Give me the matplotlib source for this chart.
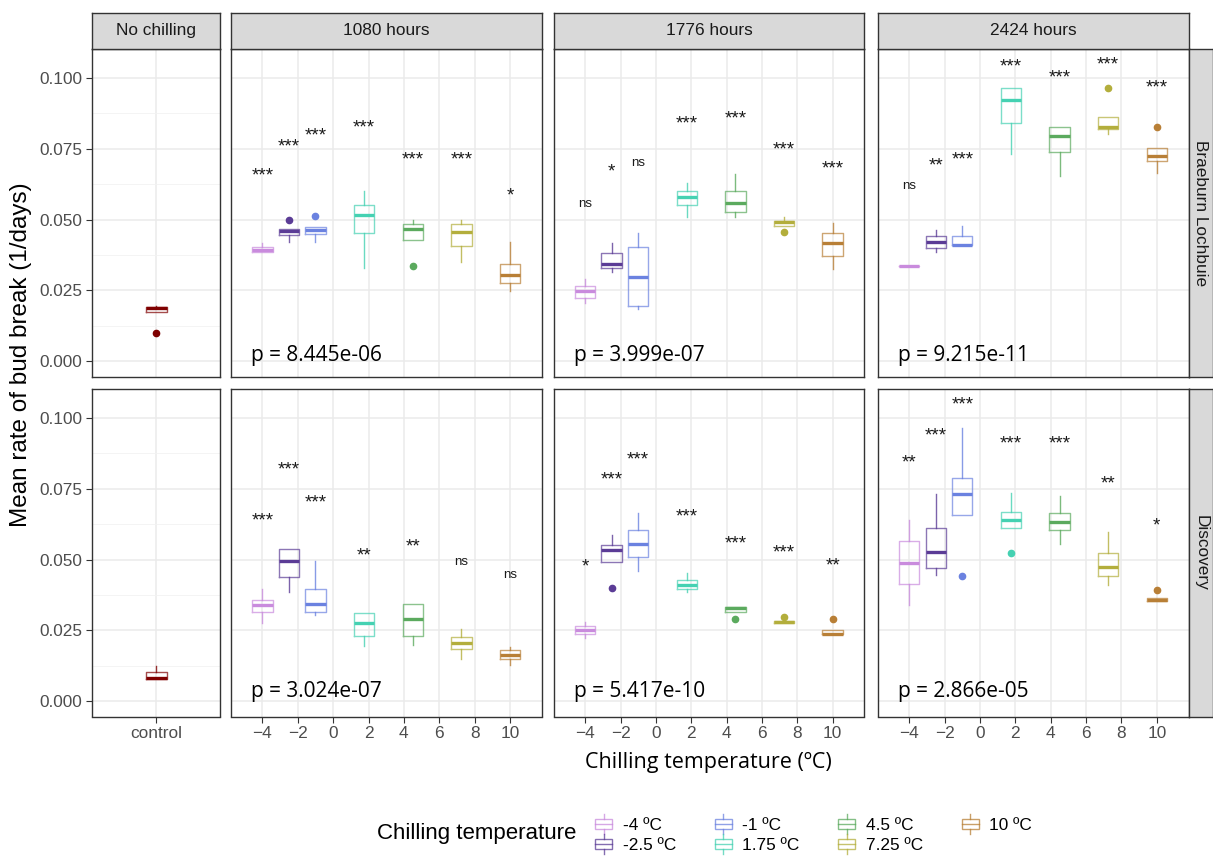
import numpy as np
import matplotlib
matplotlib.use('Agg')
import matplotlib.pyplot as plt
from matplotlib.legend_handler import HandlerBase
from matplotlib.patches import Rectangle, Patch
from matplotlib.lines import Line2D

plt.rcParams['font.family'] = ['Liberation Sans', 'DejaVu Sans']

# --- data ---
temps = [-4, -2.5, -1, 1.75, 4.5, 7.25, 10]
temp_labels = ['-4 ºC', '-2.5 ºC', '-1 ºC', '1.75 ºC', '4.5 ºC', '7.25 ºC', '10 ºC']
temp_colors = ['#C98BDD', '#5B3C96', '#6B82E0', '#45D1B2', '#5BAA5E', '#B3AE3C', '#B87F36']
control_color = '#7F0000'

cultivars = ['Braeburn Lochbuie', 'Discovery']
durations = ['1080 hours', '1776 hours', '2424 hours']

# control (no chilling): q1, median, q3, whisker low, whisker high, outliers
ctrl_bl = [0.0175, 0.0188, 0.0192, 0.0175, 0.0195, [0.0100]]
ctrl_d = [0.0078, 0.0082, 0.0101, 0.0078, 0.0124, []]

# Braeburn Lochbuie, 1080 hours
bl_1080_q1 = [0.0384, 0.0445, 0.0449, 0.0453, 0.0427, 0.0407, 0.0275]
bl_1080_med = [0.0394, 0.0460, 0.0463, 0.0517, 0.0466, 0.0455, 0.0303]
bl_1080_q3 = [0.0404, 0.0466, 0.0475, 0.0552, 0.0483, 0.0483, 0.0345]
bl_1080_lo = [0.0384, 0.0422, 0.0422, 0.0328, 0.0427, 0.0349, 0.0248]
bl_1080_hi = [0.0419, 0.0466, 0.0475, 0.0602, 0.0497, 0.0497, 0.0420]
bl_1080_out = [[], [0.0497], [0.0512], [], [0.0337], [], []]
bl_1080_sig = ['***', '***', '***', '***', '***', '***', '*']
bl_1080_sig_y = [0.0675, 0.0775, 0.0816, 0.0842, 0.0731, 0.0731, 0.0604]

# Braeburn Lochbuie, 1776 hours
bl_1776_q1 = [0.0224, 0.0328, 0.0195, 0.0551, 0.0528, 0.0477, 0.0371]
bl_1776_med = [0.0248, 0.0342, 0.0298, 0.0578, 0.0559, 0.0490, 0.0416]
bl_1776_q3 = [0.0266, 0.0381, 0.0404, 0.0602, 0.0602, 0.0494, 0.0451]
bl_1776_lo = [0.0207, 0.0316, 0.0184, 0.0510, 0.0510, 0.0477, 0.0324]
bl_1776_hi = [0.0289, 0.0416, 0.0451, 0.0630, 0.0661, 0.0510, 0.0489]
bl_1776_out = [[], [], [], [], [], [0.0455], []]
bl_1776_sig = ['ns', '*', 'ns', '***', '***', '***', '***']
bl_1776_sig_y = [0.0557, 0.0687, 0.0701, 0.0858, 0.0875, 0.0766, 0.0699]

# Braeburn Lochbuie, 2424 hours
bl_2424_q1 = [0.0335, 0.0398, 0.0409, 0.0840, 0.0739, 0.0820, 0.0707]
bl_2424_med = [0.0337, 0.0420, 0.0411, 0.0921, 0.0796, 0.0826, 0.0724]
bl_2424_q3 = [0.0338, 0.0443, 0.0443, 0.0964, 0.0828, 0.0863, 0.0754]
bl_2424_lo = [0.0335, 0.0384, 0.0409, 0.0730, 0.0655, 0.0801, 0.0663]
bl_2424_hi = [0.0338, 0.0463, 0.0478, 0.0964, 0.0828, 0.0863, 0.0754]
bl_2424_out = [[], [], [], [], [], [0.0964], [0.0828]]
bl_2424_sig = ['ns', '**', '***', '***', '***', '***', '***']
bl_2424_sig_y = [0.0620, 0.0710, 0.0730, 0.1060, 0.1020, 0.1067, 0.0986]

# Discovery, 1080 hours
d_1080_q1 = [0.0313, 0.0438, 0.0313, 0.0229, 0.0229, 0.0182, 0.0147]
d_1080_med = [0.0338, 0.0496, 0.0344, 0.0276, 0.0291, 0.0206, 0.0163]
d_1080_q3 = [0.0356, 0.0539, 0.0396, 0.0310, 0.0342, 0.0225, 0.0179]
d_1080_lo = [0.0275, 0.0384, 0.0305, 0.0194, 0.0197, 0.0147, 0.0126]
d_1080_hi = [0.0397, 0.0539, 0.0496, 0.0310, 0.0342, 0.0255, 0.0190]
d_1080_out = [[], [], [], [], [], [], []]
d_1080_sig = ['***', '***', '***', '**', '**', 'ns', 'ns']
d_1080_sig_y = [0.0657, 0.0836, 0.0721, 0.0534, 0.0566, 0.0495, 0.0446]

# Discovery, 1776 hours
d_1776_q1 = [0.0237, 0.0493, 0.0508, 0.0396, 0.0313, 0.0275, 0.0235]
d_1776_med = [0.0252, 0.0532, 0.0555, 0.0411, 0.0327, 0.0280, 0.0238]
d_1776_q3 = [0.0264, 0.0551, 0.0606, 0.0426, 0.0331, 0.0284, 0.0250]
d_1776_lo = [0.0223, 0.0493, 0.0461, 0.0384, 0.0313, 0.0275, 0.0235]
d_1776_hi = [0.0280, 0.0587, 0.0663, 0.0454, 0.0331, 0.0284, 0.0250]
d_1776_out = [[], [0.0400], [], [], [0.0291], [0.0296], [0.0291]]
d_1776_sig = ['*', '***', '***', '***', '***', '***', '**']
d_1776_sig_y = [0.0495, 0.0801, 0.0871, 0.0671, 0.0575, 0.0544, 0.0499]

# Discovery, 2424 hours
d_2424_q1 = [0.0414, 0.0470, 0.0656, 0.0613, 0.0605, 0.0442, 0.0352]
d_2424_med = [0.0489, 0.0528, 0.0730, 0.0640, 0.0633, 0.0473, 0.0358]
d_2424_q3 = [0.0567, 0.0613, 0.0787, 0.0667, 0.0663, 0.0524, 0.0364]
d_2424_lo = [0.0340, 0.0445, 0.0656, 0.0613, 0.0554, 0.0411, 0.0352]
d_2424_hi = [0.0640, 0.0730, 0.0966, 0.0737, 0.0725, 0.0599, 0.0364]
d_2424_out = [[], [], [0.0443], [0.0524], [], [], [0.0392]]
d_2424_sig = ['**', '***', '***', '***', '***', '**', '*']
d_2424_sig_y = [0.0863, 0.0957, 0.1068, 0.0930, 0.0930, 0.0789, 0.0640]

# overall p-values (row = cultivar, col = duration)
p_values = [['p = 8.445e-06', 'p = 3.999e-07', 'p = 9.215e-11'],
            ['p = 3.024e-07', 'p = 5.417e-10', 'p = 2.866e-05']]

panels = [
    [(bl_1080_q1, bl_1080_med, bl_1080_q3, bl_1080_lo, bl_1080_hi, bl_1080_out, bl_1080_sig, bl_1080_sig_y),
     (bl_1776_q1, bl_1776_med, bl_1776_q3, bl_1776_lo, bl_1776_hi, bl_1776_out, bl_1776_sig, bl_1776_sig_y),
     (bl_2424_q1, bl_2424_med, bl_2424_q3, bl_2424_lo, bl_2424_hi, bl_2424_out, bl_2424_sig, bl_2424_sig_y)],
    [(d_1080_q1, d_1080_med, d_1080_q3, d_1080_lo, d_1080_hi, d_1080_out, d_1080_sig, d_1080_sig_y),
     (d_1776_q1, d_1776_med, d_1776_q3, d_1776_lo, d_1776_hi, d_1776_out, d_1776_sig, d_1776_sig_y),
     (d_2424_q1, d_2424_med, d_2424_q3, d_2424_lo, d_2424_hi, d_2424_out, d_2424_sig, d_2424_sig_y)],
]
controls = [ctrl_bl, ctrl_d]

# --- layout (pixels) ---
W, H = 1213, 856
fig = plt.figure(figsize=(W / 100, H / 100), dpi=100)


def px_box(left, top, right, bottom):
    return [left / W, 1 - bottom / H, (right - left) / W, (bottom - top) / H]


ctrl_x = (92.3, 220)
col_x = [(230.7, 541.7), (553.5, 864.3), (877.5, 1188.5)]
row_y = [(48.5, 377), (389, 716.5)]
strip_y = (12.7, 48.5)
rstrip_x = (1188.5, 1213)

YLIM = (-0.0055, 0.1103)
GRID = '#EBEBEB'
BORDER = '#333333'
TICKTXT = '#4D4D4D'
STRIP = '#D9D9D9'


def style_axes(ax):
    ax.set_facecolor('white')
    for s in ax.spines.values():
        s.set_color(BORDER)
        s.set_linewidth(1.0)
    ax.set_axisbelow(True)
    ax.tick_params(labelsize=12.4, labelcolor=TICKTXT, color=BORDER, length=4, width=0.8, pad=3)


def draw_box(ax, pos, q1, med, q3, lo, hi, out, color, width):
    stats = [dict(med=med, q1=q1, q3=q3, whislo=lo, whishi=hi, fliers=out)]
    ax.bxp(stats, positions=[pos], widths=width, showcaps=False, manage_ticks=False,
           boxprops=dict(color=color, alpha=0.7, lw=1.0),
           whiskerprops=dict(color=color, alpha=0.8, lw=1.0),
           medianprops=dict(color=color, lw=2.4, solid_capstyle='butt'),
           flierprops=dict(marker='o', markerfacecolor=color, markeredgecolor=color,
                           markersize=4.5, linestyle='none'))


def strip(rect, text, rotation=0):
    sax = fig.add_axes(rect)
    sax.set_facecolor(STRIP)
    sax.set_xticks([])
    sax.set_yticks([])
    for s in sax.spines.values():
        s.set_color(BORDER)
        s.set_linewidth(1.0)
    sax.text(0.5, 0.5, text, transform=sax.transAxes, ha='center', va='center',
             rotation=rotation, fontsize=12.4, color='#1A1A1A')


# control column
for r in range(2):
    ax = fig.add_axes(px_box(ctrl_x[0], row_y[r][0], ctrl_x[1], row_y[r][1]))
    style_axes(ax)
    q1, med, q3, lo, hi, out = controls[r]
    draw_box(ax, 1, q1, med, q3, lo, hi, out, control_color, 0.2)
    ax.set_xlim(0.4, 1.6)
    ax.set_ylim(*YLIM)
    ax.set_yticks([0, 0.025, 0.05, 0.075, 0.1])
    ax.set_yticklabels(['0.000', '0.025', '0.050', '0.075', '0.100'])
    ax.set_yticks([0.0125, 0.0375, 0.0625, 0.0875], minor=True)
    ax.tick_params(which='minor', length=0)
    ax.set_xticks([1])
    ax.grid(True, which='major', color=GRID, lw=1.1)
    ax.grid(True, which='minor', axis='y', color='#F2F2F2', lw=0.6)
    if r == 0:
        ax.set_xticklabels([])
        ax.tick_params(axis='x', length=0)
    else:
        ax.set_xticklabels(['control'])

strip(px_box(ctrl_x[0], strip_y[0], ctrl_x[1], strip_y[1]), 'No chilling')

# chilled panels
for r in range(2):
    for c in range(3):
        ax = fig.add_axes(px_box(col_x[c][0], row_y[r][0], col_x[c][1], row_y[r][1]))
        style_axes(ax)
        q1s, meds, q3s, los, his, outs, sigs, sig_ys = panels[r][c]
        for i, t in enumerate(temps):
            draw_box(ax, t, q1s[i], meds[i], q3s[i], los[i], his[i], outs[i], temp_colors[i], 1.15)
            if sigs[i] == 'ns':
                fs, dy = 9.5, -0.27 * 9.5
            else:
                fs, dy = 13.5, -0.55 * 13.5
            ax.annotate(sigs[i], (t, sig_ys[i]), xytext=(0, dy), textcoords='offset points',
                        ha='center', va='baseline', fontsize=fs, color='#1A1A1A')
        ax.text(-4.62, [0.0003, 0.0015][r], p_values[r][c], ha='left', va='baseline',
                fontsize=15, family='Open Sans', color='black')
        ax.set_xlim(-5.79, 11.79)
        ax.set_ylim(*YLIM)
        ax.set_xticks(np.arange(-4, 11, 2))
        ax.set_yticks([0, 0.025, 0.05, 0.075, 0.1])
        ax.set_yticklabels([])
        ax.tick_params(axis='y', length=0)
        ax.grid(True, color=GRID, lw=1.1)
        if r == 0:
            ax.set_xticklabels([])
            ax.tick_params(axis='x', length=0)
            strip(px_box(col_x[c][0], strip_y[0], col_x[c][1], strip_y[1]), durations[c])
    strip(px_box(rstrip_x[0], row_y[r][0], rstrip_x[1], row_y[r][1]), cultivars[r], rotation=-90)

# axis titles
fig.text(21 / W, 1 - 355 / H, 'Mean rate of bud break (1/days)', rotation=90,
         ha='center', va='center', fontsize=17.5, color='black')
fig.text(708.5 / W, 1 - 762 / H, 'Chilling temperature (ºC)', ha='center', va='center',
         fontsize=15.5, family='Open Sans', color='black')


# legend with boxplot-style keys
class BoxKey(HandlerBase):
    def create_artists(self, legend, orig_handle, xdescent, ydescent, width, height, fontsize, trans):
        col = orig_handle.get_edgecolor()
        x0, y0 = -xdescent, -ydescent
        cx = x0 + width / 2
        box = Rectangle((x0, y0 + height * 0.25), width, height * 0.5, facecolor='white',
                        edgecolor=col, lw=1.0, transform=trans)
        med = Line2D([x0, x0 + width], [y0 + height / 2] * 2, color=col, lw=1.0, transform=trans)
        w1 = Line2D([cx, cx], [y0, y0 + height * 0.25], color=col, lw=1.0, transform=trans)
        w2 = Line2D([cx, cx], [y0 + height * 0.75, y0 + height], color=col, lw=1.0, transform=trans)
        return [box, med, w1, w2]


handles = [Patch(edgecolor=matplotlib.colors.to_rgba(col, 0.75), facecolor='white') for col in temp_colors]
fig.legend(handles, temp_labels, ncol=4, loc='center left',
           bbox_to_anchor=(595 / W, 1 - 834 / H), frameon=False, fontsize=12.4,
           handler_map={Patch: BoxKey()}, handlelength=1.0, handleheight=1.35,
           handletextpad=0.6, columnspacing=2.25, labelspacing=0.05, borderpad=0,
           borderaxespad=0)
fig.text(377 / W, 1 - 834 / H, 'Chilling temperature', ha='left', va='center',
         fontsize=16, color='black')

fig.savefig('out.png', dpi=100, facecolor='white')
